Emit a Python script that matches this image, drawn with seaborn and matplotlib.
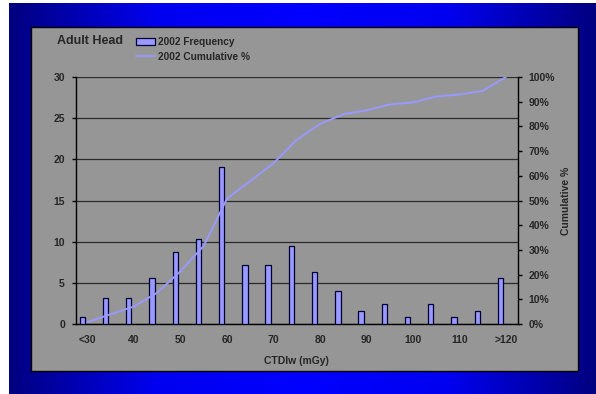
import numpy as np
import pandas as pd
import matplotlib
matplotlib.use("Agg")
import matplotlib.pyplot as plt
from matplotlib.colors import LinearSegmentedColormap
from matplotlib.patches import Rectangle
from matplotlib.lines import Line2D
from matplotlib.ticker import FixedLocator, FuncFormatter
import seaborn as sns

# CTDIw bins (mGy)
categories = ["<30", "35", "40", "45", "50", "55", "60", "65", "70", "75",
              "80", "85", "90", "95", "100", "105", "110", "115", ">120"]
# Frequency of adult head scans per bin, 2002 (%)
frequency = [0.79, 3.17, 3.17, 5.56, 8.73, 10.32, 19.05, 7.14, 7.14, 9.52,
             6.35, 3.97, 1.59, 2.38, 0.79, 2.38, 0.79, 1.59, 5.56]
# Cumulative share (%)
cumulative = [0.8, 4.0, 7.1, 12.7, 21.4, 31.7, 50.8, 57.9, 65.1, 74.6,
              81.0, 84.9, 86.5, 88.9, 89.7, 92.1, 92.9, 94.4, 100.0]
x_labels = ["<30", "40", "50", "60", "70", "80", "90", "100", "110", ">120"]
left_ticks = [0, 5, 10, 15, 20, 25, 30]
right_ticks = [0, 10, 20, 30, 40, 50, 60, 70, 80, 90, 100]

df = pd.DataFrame({"bin": categories, "freq": frequency, "cum": cumulative,
                   "pos": np.arange(len(categories))})

sns.set_style("white")
plt.rcParams["font.family"] = ["Liberation Sans", "DejaVu Sans"]
plt.rcParams["font.weight"] = "bold"

W, H = 596, 394
fig = plt.figure(figsize=(W / 100, H / 100), dpi=100)
fig.patch.set_facecolor("white")

def fx(px):
    return px / W

def fy(py):
    return 1 - py / H

TICK_FS = 7.5
LABEL_FS = 7.5

# blue slide background: navy -> blue -> navy
bg = fig.add_axes([fx(9), 0, 1 - fx(9), fy(2.5)])
bg.set_axis_off()
cmap = LinearSegmentedColormap.from_list("slide", ["#000080", "#0000f0", "#0000ff", "#0000f0", "#000080"])
bg.imshow(np.linspace(0, 1, 512)[None, :], aspect="auto", cmap=cmap,
          extent=[0, 1, 0, 1])
bg.set_xlim(0, 1)
bg.set_ylim(0, 1)

# gray chart panel
fig.patches.append(Rectangle((fx(31), fy(371)), fx(578) - fx(31), fy(27) - fy(371),
                             transform=fig.transFigure, facecolor="#969696",
                             edgecolor="black", linewidth=1.0, zorder=1))

ax = fig.add_axes([fx(76), fy(324), fx(517.5) - fx(76), fy(77) - fy(324)])
ax.set_facecolor("none")
ax.set_zorder(2)

bar_color = "#9999ff"
sns.barplot(data=df, x="bin", y="freq", ax=ax, color=bar_color, saturation=1,
            width=0.23, edgecolor="#000033", linewidth=0.9, zorder=3)
# bars sit left of the category centre
for p in ax.patches:
    p.set_x(p.get_x() - 0.23)

n = len(categories)
ax.set_xlim(-0.5, n - 0.5)
ax.set_ylim(0, 30)
ax.yaxis.set_major_locator(FixedLocator(left_ticks))
ax.grid(axis="y", color="#2a2a2a", linewidth=0.9, zorder=0)
ax.grid(axis="x", visible=False)
ax.set_axisbelow(True)

# tick marks at bin boundaries, labels on every other bin
ax.xaxis.set_major_locator(FixedLocator(np.arange(-0.5, n, 1.0)))
ax.xaxis.set_major_formatter(FuncFormatter(lambda v, i: ""))
label_pos = [categories.index(c) for c in x_labels]
ax.xaxis.set_minor_locator(FixedLocator(label_pos))
ax.xaxis.set_minor_formatter(FuncFormatter(lambda v, i: categories[int(round(v))]))
ax.tick_params(axis="x", which="major", direction="out", length=3, width=1, color="black")
ax.tick_params(axis="x", which="minor", length=0, pad=8, labelsize=TICK_FS)
ax.tick_params(axis="y", direction="out", length=3, width=1, color="black",
               labelsize=TICK_FS, pad=5, left=True)
for lbl in ax.get_xticklabels(minor=True) + ax.get_yticklabels():
    lbl.set_fontweight("bold")

for side in ["top", "right"]:
    ax.spines[side].set_visible(False)
for side in ["left", "bottom"]:
    ax.spines[side].set_color("black")
    ax.spines[side].set_linewidth(1.0)

ax.set_xlabel("CTDIw (mGy)", fontsize=LABEL_FS, fontweight="bold", labelpad=8)
ax.set_ylabel("")

ax2 = ax.twinx()
ax2.set_facecolor("none")
sns.lineplot(data=df, x="pos", y="cum", ax=ax2, color=bar_color, linewidth=1.4)
ax2.set_ylim(0, 100)
ax2.set_xlim(-0.5, n - 0.5)
ax2.yaxis.set_major_locator(FixedLocator(right_ticks))
ax2.yaxis.set_major_formatter(FuncFormatter(lambda v, i: f"{int(v)}%"))
ax2.tick_params(axis="y", direction="out", length=3, width=1, color="black",
                labelsize=TICK_FS, pad=5, right=True)
for lbl in ax2.get_yticklabels():
    lbl.set_fontweight("bold")
for side in ["top", "left", "bottom"]:
    ax2.spines[side].set_visible(False)
ax2.spines["right"].set_color("black")
ax2.spines["right"].set_linewidth(1.0)
ax2.set_ylabel("Cumulative %", fontsize=LABEL_FS, fontweight="bold", labelpad=4)
ax2.set_xlabel("")
ax2.grid(False)

# title and legend
fig.text(fx(57), fy(41.5), "Adult Head", fontsize=9, fontweight="bold",
         ha="left", va="center", zorder=5)
handles = [Rectangle((0, 0), 1, 1, facecolor=bar_color, edgecolor="#000033", linewidth=0.9),
           Line2D([], [], color=bar_color, linewidth=1.4)]
fig.legend(handles, ["2002 Frequency", "2002 Cumulative %"], loc="upper left",
           bbox_to_anchor=(fx(136), fy(37)), frameon=False,
           prop={"size": 7.3, "weight": "bold"}, handlelength=1.9, handleheight=0.8,
           handletextpad=0.25, labelspacing=0.5, borderpad=0, borderaxespad=0)

fig.savefig("out.png", dpi=100)
